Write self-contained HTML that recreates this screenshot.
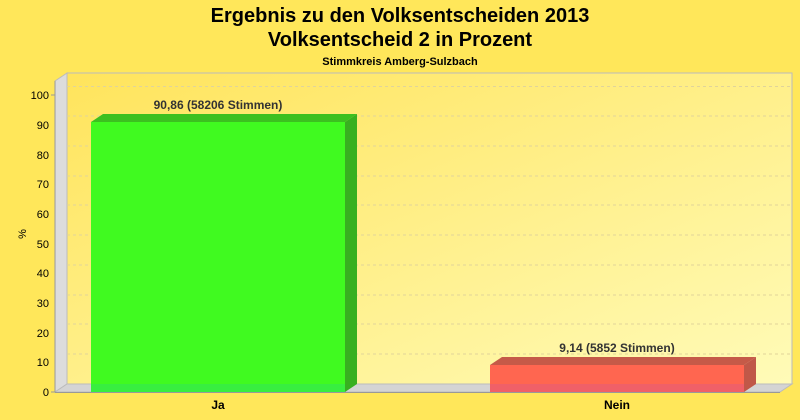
<!DOCTYPE html>
<html><head><style>body{margin:0}svg{display:block}</style></head><body>
<svg width="800" height="420" xmlns="http://www.w3.org/2000/svg" font-family="Liberation Sans, sans-serif">
<defs>
<linearGradient id="wall" x1="0" y1="0" x2="1" y2="1"><stop offset="0" stop-color="#FFE45C"/><stop offset="1" stop-color="#FFFBB8"/></linearGradient>
</defs>
<rect width="800" height="420" fill="#FFE75A"/>
<text x="400" y="22" font-size="20" font-weight="bold" text-anchor="middle">Ergebnis zu den Volksentscheiden 2013</text>
<text x="400" y="46" font-size="20" font-weight="bold" text-anchor="middle">Volksentscheid 2 in Prozent</text>
<text x="400" y="65" font-size="11" font-weight="bold" text-anchor="middle">Stimmkreis Amberg-Sulzbach</text>
<polygon points="67,73 792,73 792,384 67,384" fill="url(#wall)" stroke="#bbb" stroke-width="1"/>
<polygon points="55,81 67,73 67,384 55,392" fill="#DCDCDC" stroke="#bbb" stroke-width="1"/>
<polygon points="55,392 67,384 792,384 780,392" fill="#D4D4D4" stroke="#bbb" stroke-width="1"/>
<g stroke="#e0d49a" stroke-dasharray="3,3" stroke-width="1">
<line x1="67" y1="86.5" x2="792" y2="86.5"/><line x1="67" y1="116" x2="792" y2="116"/><line x1="67" y1="146" x2="792" y2="146"/><line x1="67" y1="176" x2="792" y2="176"/><line x1="67" y1="205" x2="792" y2="205"/><line x1="67" y1="235" x2="792" y2="235"/><line x1="67" y1="265" x2="792" y2="265"/><line x1="67" y1="295" x2="792" y2="295"/><line x1="67" y1="324" x2="792" y2="324"/><line x1="67" y1="354" x2="792" y2="354"/>
</g>
<line x1="55" y1="81" x2="55" y2="392" stroke="#999"/>
<line x1="55" y1="392.5" x2="780" y2="392.5" stroke="#999"/>
<g font-size="11" text-anchor="end">
<text x="49" y="99">100</text><text x="49" y="129">90</text><text x="49" y="159">80</text><text x="49" y="188">70</text><text x="49" y="218">60</text><text x="49" y="248">50</text><text x="49" y="277">40</text><text x="49" y="307">30</text><text x="49" y="337">20</text><text x="49" y="366">10</text><text x="49" y="396">0</text>
</g>
<g stroke="#999"><line x1="51" y1="95" x2="55" y2="95"/><line x1="51" y1="392" x2="55" y2="392"/></g>
<text x="22" y="238" font-size="11" text-anchor="middle" transform="rotate(-90 22 234)">%</text>
<polygon points="91,122 103,114 357,114 345,122" fill="#3CC020"/>
<polygon points="345,122 357,114 357,384 345,392" fill="#38B020"/>
<rect x="91" y="122" width="254" height="270" fill="#40FA20"/>
<rect x="91" y="384" width="254" height="8" fill="#38EE40"/>
<polygon points="490,365 502,357 756,357 744,365" fill="#C55A48"/>
<polygon points="744,365 756,357 756,384 744,392" fill="#C05848"/>
<rect x="490" y="365" width="254" height="27" fill="#FF6650"/>
<rect x="490" y="384" width="254" height="8" fill="#F06068"/>
<g font-size="12" font-weight="bold" fill="#333" text-anchor="middle">
<text x="218" y="109">90,86 (58206 Stimmen)</text>
<text x="617" y="352">9,14 (5852 Stimmen)</text>
</g>
<g font-size="12" font-weight="bold" text-anchor="middle">
<text x="218" y="409">Ja</text><text x="617" y="409">Nein</text>
</g>
</svg>
</body></html>
